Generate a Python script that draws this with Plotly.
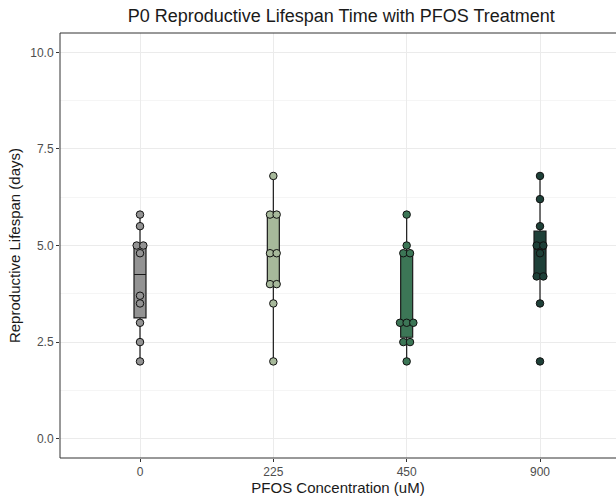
import numpy as np
import plotly.graph_objects as go

categories = ["0", "225", "450", "900"]
vals_0 = [5.8, 5.5, 5.0, 5.0, 4.8, 3.7, 3.5, 3.0, 2.5, 2.0]
vals_225 = [6.8, 5.8, 5.8, 4.8, 4.8, 4.0, 4.0, 3.5, 2.0]
vals_450 = [5.8, 5.0, 4.8, 4.8, 3.0, 3.0, 3.0, 2.5, 2.5, 2.0]
vals_900 = [6.8, 6.2, 5.5, 5.0, 5.0, 4.8, 4.2, 4.2, 3.5, 2.0]
series = [vals_0, vals_225, vals_450, vals_900]
colors = ["#939393", "#a7b99b", "#3c7656", "#1e4038"]

fig = go.Figure()

for i, (vals, col) in enumerate(zip(series, colors)):
    arr = np.array(vals)
    q1, med, q3 = np.percentile(arr, [25, 50, 75])
    iqr = q3 - q1
    lo = arr[arr >= q1 - 1.5 * iqr].min()
    hi = arr[arr <= q3 + 1.5 * iqr].max()
    fig.add_trace(go.Box(
        x=[i], q1=[q1], median=[med], q3=[q3], lowerfence=[lo], upperfence=[hi],
        fillcolor=col, line=dict(color="#1a1a1a", width=1.2), whiskerwidth=0,
        width=0.09, boxpoints=False, showlegend=False, hoverinfo="skip",
    ))
    # dot positions: stack duplicates side by side, centered
    xs, ys = [], []
    for v in sorted(set(vals)):
        n = vals.count(v)
        for k in range(n):
            xs.append(i + (k - (n - 1) / 2) * 0.05)
            ys.append(v)
    fig.add_trace(go.Scatter(
        x=xs, y=ys, mode="markers",
        marker=dict(size=7.5, color=col, line=dict(color="#111111", width=1)),
        showlegend=False, hoverinfo="skip",
    ))

# panel border: left, top, bottom (right edge lies beyond the image)
for (x0, y0, x1, y1) in [(0, 0, 0, 1), (0, 1, 1, 1), (0, 0, 1, 0)]:
    fig.add_shape(type="line", xref="paper", yref="paper", x0=x0, y0=y0, x1=x1, y1=y1,
                  line=dict(color="#333333", width=1), layer="above")

fig.update_layout(
    template="none",
    width=616, height=501,
    margin=dict(l=60, r=0, t=33, b=43),
    paper_bgcolor="white", plot_bgcolor="white",
    font=dict(family="Liberation Sans, Arial, sans-serif", color="#1a1a1a"),
    title=dict(text="P0 Reproductive Lifespan Time with PFOS Treatment",
               xref="container", x=0.554, xanchor="center", y=0.968, yanchor="middle",
               font=dict(size=18, color="#1a1a1a")),
    xaxis=dict(
        range=[-0.6, 3.57], tickmode="array", tickvals=[0, 1, 2, 3], ticktext=categories,
        showgrid=True, gridcolor="#ebebeb", gridwidth=1, zeroline=False,
        ticks="outside", ticklen=3, tickcolor="#333333",
        tickfont=dict(size=12, color="#4d4d4d"),
        title=dict(text="PFOS Concentration (uM)", font=dict(size=15, color="#1a1a1a"), standoff=3),
        showline=False,
    ),
    yaxis=dict(
        range=[-0.5, 10.5], tickmode="array", tickvals=[0, 2.5, 5, 7.5, 10],
        ticktext=["0.0", "2.5", "5.0", "7.5", "10.0"],
        showgrid=True, gridcolor="#ebebeb", gridwidth=1, zeroline=False,
        minor=dict(tickvals=[1.25, 3.75, 6.25, 8.75], showgrid=True, gridcolor="#f5f5f5", gridwidth=1, ticks=""),
        ticks="outside", ticklen=3, tickcolor="#333333",
        tickfont=dict(size=12, color="#4d4d4d"),
        title=dict(text="Reproductive Lifespan (days)", font=dict(size=15, color="#1a1a1a"), standoff=5),
        showline=False,
    ),
)

fig.write_html("out.html", config={"displayModeBar": False},
               post_script="document.body.style.margin='0px';document.body.style.overflow='hidden';")
